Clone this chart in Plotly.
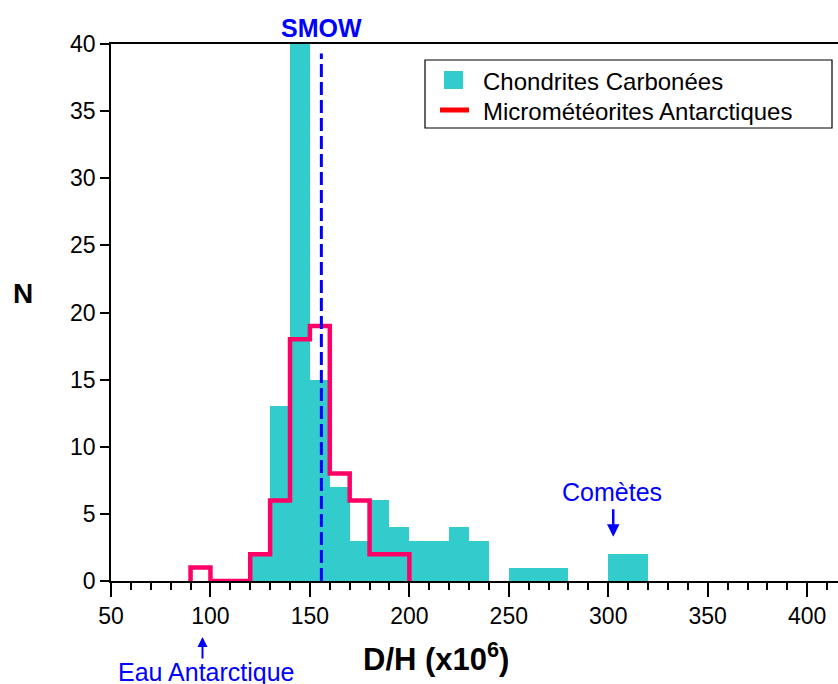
import plotly.graph_objects as go

# Chondrites Carbonées histogram (bin left edges, width 10)
cc_bins = [120, 130, 140, 150, 160, 170, 180, 190, 200, 210, 220, 230, 240,
           250, 260, 270, 280, 290, 300, 310]
cc_counts = [2, 13, 45, 15, 7, 3, 6, 4, 3, 3, 4, 3, 0,
             1, 1, 1, 0, 0, 2, 2]

# Micrométéorites Antarctiques histogram (bin edges and counts)
mm_edges = [90, 100, 110, 120, 130, 140, 150, 160, 170, 180, 190, 200]
mm_counts = [1, 0, 0, 2, 6, 18, 19, 8, 6, 2, 2]

series_names = ["Chondrites Carbonées", "Micrométéorites Antarctiques"]

smow = 155.76
comets_x = 302
eau_x = 96

FONT = "Arial, Liberation Sans, Helvetica, sans-serif"
TEAL = "#33CCCC"
PINK = "#FF0066"
LEG_RED = "#FF0000"
BLUE = "#0000FF"

fig = go.Figure()

fig.add_trace(go.Bar(
    x=cc_bins, y=cc_counts, width=10, offset=0,
    marker=dict(color=TEAL, line=dict(width=0)),
    name=series_names[0], showlegend=False,
))

# step outline for micrometeorites
sx = [mm_edges[0]] + mm_edges
sy = [0] + mm_counts + [0]
fig.add_trace(go.Scatter(
    x=sx, y=sy, mode="lines", line=dict(color=PINK, width=4.5, shape="hv"),
    name=series_names[1], showlegend=False, hoverinfo="skip",
))

# SMOW dashed line
fig.add_trace(go.Scatter(
    x=[smow, smow], y=[0, 39.3], mode="lines",
    line=dict(color=BLUE, width=3, dash="13px,5px"),
    showlegend=False, hoverinfo="skip",
))

# helper: page pixels -> paper coordinates (plot area x 111..838, y 44..581)
def px(x):
    return (x - 111) / 727.0

def py(y):
    return (581 - y) / 537.0

# legend drawn as box + symbols + texts
shapes = [
    dict(type="rect", xref="paper", yref="paper", x0=px(425), x1=px(832), y0=py(128), y1=py(60),
         line=dict(color="black", width=1.2), fillcolor="white", layer="above"),
    dict(type="rect", xref="paper", yref="paper", x0=px(444), x1=px(463), y0=py(89), y1=py(71),
         line=dict(width=0), fillcolor=TEAL, layer="above"),
    dict(type="line", xref="paper", yref="paper", x0=px(440), x1=px(469), y0=py(110), y1=py(110),
         line=dict(color=LEG_RED, width=5), layer="above"),
]

annotations = [
    dict(x=px(481), y=py(81), xref="paper", yref="paper", xanchor="left", yanchor="middle",
         text=series_names[0], showarrow=False, font=dict(family=FONT, size=24, color="black")),
    dict(x=px(481), y=py(111), xref="paper", yref="paper", xanchor="left", yanchor="middle",
         text=series_names[1], showarrow=False, font=dict(family=FONT, size=24, color="black")),
    dict(x=smow, y=py(28), xref="x", yref="paper", xanchor="center", yanchor="middle",
         text="<b>SMOW</b>", showarrow=False, font=dict(family=FONT, size=25, color=BLUE)),
    dict(x=comets_x, y=6.6, xref="x", yref="y", xanchor="center", yanchor="middle", text="Comètes",
         showarrow=False, font=dict(family=FONT, size=25, color=BLUE)),
    dict(x=comets_x + 0.5, y=3.3, xref="x", yref="y", ax=0, ay=-29, text="",
         showarrow=True, arrowhead=2, arrowsize=1, arrowwidth=2.5, arrowcolor=BLUE),
    dict(x=eau_x, y=py(637), xref="x", yref="paper", ax=0, ay=23, text="",
         showarrow=True, arrowhead=2, arrowsize=1, arrowwidth=2, arrowcolor=BLUE),
    dict(x=eau_x + 2, y=py(672), xref="x", yref="paper", xanchor="center", yanchor="middle",
         text="Eau Antarctique", showarrow=False, font=dict(family=FONT, size=25, color=BLUE)),
    dict(x=px(436), y=py(657), xref="paper", yref="paper", xanchor="center", yanchor="middle",
         text="<b>D/H (x10<sup>6</sup>)</b>",
         showarrow=False, font=dict(family=FONT, size=31, color="black")),
    dict(x=px(23), y=py(293), xref="paper", yref="paper", xanchor="center", yanchor="middle",
         text="<b>N</b>", showarrow=False, font=dict(family=FONT, size=28, color="black")),
]

fig.update_layout(
    width=838, height=684,
    margin=dict(l=111, r=0, t=44, b=103),
    plot_bgcolor="white", paper_bgcolor="white",
    font=dict(family=FONT, size=23, color="black"),
    bargap=0, showlegend=False,
    annotations=annotations, shapes=shapes,
)

fig.update_xaxes(
    range=[50, 415.5], tickmode="array", tickvals=[50, 100, 150, 200, 250, 300, 350, 400],
    ticks="outside", ticklen=14, tickwidth=1.5, tickcolor="black",
    showline=True, linecolor="black", linewidth=1.5, mirror=True,
    showgrid=False, zeroline=False, layer="above traces", automargin=False,
    minor=dict(dtick=10, tick0=50, ticks="outside", ticklen=7, tickwidth=1.5, tickcolor="black"),
    tickfont=dict(family=FONT, size=23, color="black"),
)
fig.update_yaxes(
    range=[0, 40], tickmode="linear", tick0=0, dtick=5,
    ticks="outside", ticklen=9, tickwidth=1.5, tickcolor="black",
    showline=True, linecolor="black", linewidth=1.5, automargin=False,
    showgrid=False, zeroline=False, layer="above traces",
    tickfont=dict(family=FONT, size=23, color="black"),
)

fig.write_html("out.html", config={"displayModeBar": False},
               post_script="document.body.style.margin='0px';document.body.style.overflow='hidden';")
